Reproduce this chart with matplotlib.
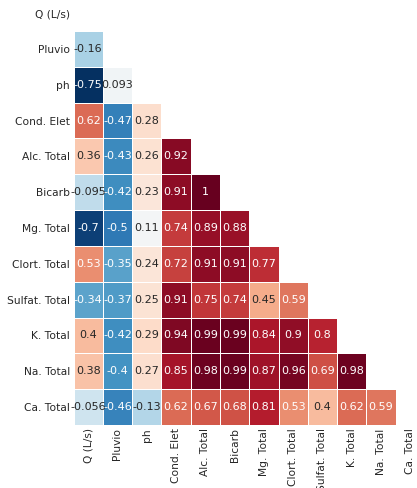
import numpy as np
import matplotlib
matplotlib.use("Agg")
import matplotlib.pyplot as plt
from matplotlib.colors import Normalize, to_rgb

labels = ["Q (L/s)", "Pluvio", "ph", "Cond. Elet", "Alc. Total", "Bicarb",
          "Mg. Total", "Clort. Total", "Sulfat. Total", "K. Total",
          "Na. Total", "Ca. Total"]

# lower-triangle correlations, row by row
row_pluvio = [-0.16]
row_ph = [-0.75, 0.093]
row_cond = [0.62, -0.47, 0.28]
row_alc = [0.36, -0.43, 0.26, 0.92]
row_bicarb = [-0.095, -0.42, 0.23, 0.91, 1.0]
row_mg = [-0.7, -0.5, 0.11, 0.74, 0.89, 0.88]
row_clort = [0.53, -0.35, 0.24, 0.72, 0.91, 0.91, 0.77]
row_sulfat = [-0.34, -0.37, 0.25, 0.91, 0.75, 0.74, 0.45, 0.59]
row_k = [0.4, -0.42, 0.29, 0.94, 0.99, 0.99, 0.84, 0.9, 0.8]
row_na = [0.38, -0.4, 0.27, 0.85, 0.98, 0.99, 0.87, 0.96, 0.69, 0.98]
row_ca = [-0.056, -0.46, -0.13, 0.62, 0.67, 0.68, 0.81, 0.53, 0.4, 0.62, 0.59]

rows = [[], row_pluvio, row_ph, row_cond, row_alc, row_bicarb, row_mg,
        row_clort, row_sulfat, row_k, row_na, row_ca]

n = len(labels)
corr = np.full((n, n), np.nan)
for i, r in enumerate(rows):
    for j, v in enumerate(r):
        corr[i, j] = v
data = np.ma.masked_invalid(corr)

vmin, vmax = np.nanmin(corr), np.nanmax(corr)
cmap = plt.get_cmap("RdBu_r")
norm = Normalize(vmin=vmin, vmax=vmax)

W, H = 417, 488
fig = plt.figure(figsize=(W / 100, H / 100), dpi=100)
left, right, bottom, top = 73.5, 425.0, 425.0, -4.8
ax = fig.add_axes([left / W, (H - bottom) / H, (right - left) / W, (bottom - top) / H])

ax.pcolormesh(np.arange(n + 1), np.arange(n + 1), data, cmap=cmap, norm=norm,
              edgecolors="white", linewidth=0.5)
ax.set_xlim(0, n)
ax.set_ylim(n, 0)


def luminance(c):
    rgb = np.array(to_rgb(c))
    rgb = np.where(rgb <= .03928, rgb / 12.92, ((rgb + .055) / 1.055) ** 2.4)
    return .2126 * rgb[0] + .7152 * rgb[1] + .0722 * rgb[2]


for i in range(n):
    for j in range(n):
        v = corr[i, j]
        if np.isnan(v):
            continue
        col = cmap(norm(v))
        tc = ".15" if luminance(col) > .408 else "w"
        ax.text(j + 0.5, i + 0.5, format(v, ".2g"), ha="center", va="center",
                fontsize=8, color=tc)

ax.set_xticks(np.arange(n) + 0.5)
ax.set_yticks(np.arange(n) + 0.5)
ax.set_xticklabels(labels, rotation=90, fontsize=7.7, color=".15")
ax.set_yticklabels(labels, rotation=0, fontsize=7.7, color=".15")
ax.tick_params(length=0, pad=2.5)
for s in ax.spines.values():
    s.set_visible(False)

fig.savefig("out.png", dpi=100)
